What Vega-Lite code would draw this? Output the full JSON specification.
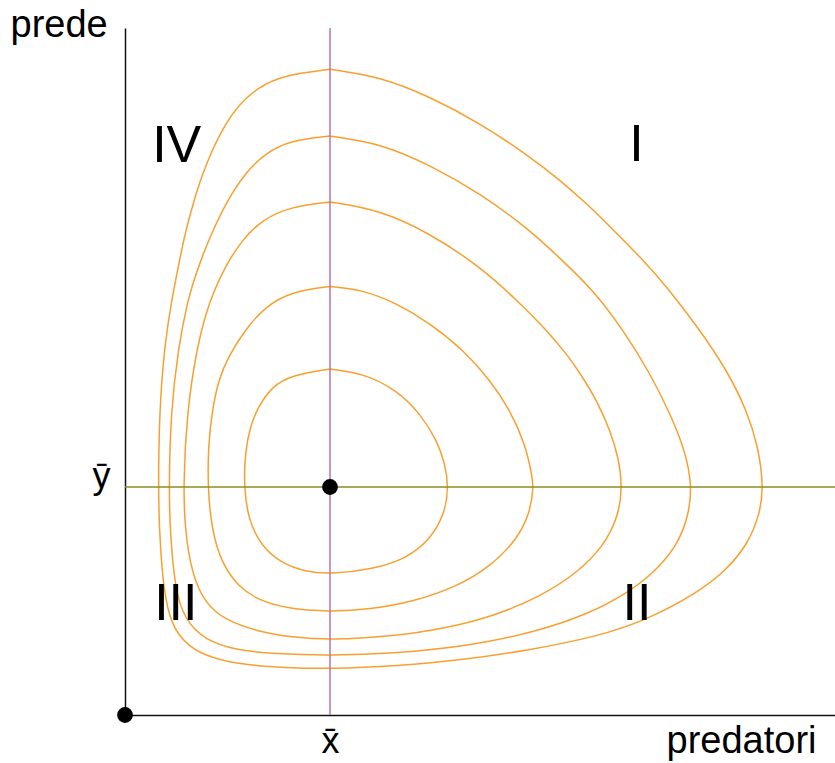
{
  "$schema": "https://vega.github.io/schema/vega-lite/v6.json",
  "width": 710,
  "height": 687,
  "autosize": {"type": "none"},
  "padding": {"left": 125, "top": 28, "right": 0, "bottom": 48},
  "background": "white",
  "config": {"view": {"stroke": null}, "font": "Liberation Sans"},
  "datasets": {
    "orbits": [
      {"c":1,"i":0,"x":2.05,"y":3.46},{"c":1,"i":1,"x":2.383,"y":3.417},{"c":1,"i":2,"x":2.717,"y":3.25},{"c":1,"i":3,"x":2.95,"y":3.017},{"c":1,"i":4,"x":3.117,"y":2.75},{"c":1,"i":5,"x":3.2,"y":2.517},{"c":1,"i":6,"x":3.235,"y":2.283},{"c":1,"i":7,"x":3.2,"y":2.017},{"c":1,"i":8,"x":3.05,"y":1.75},{"c":1,"i":9,"x":2.817,"y":1.567},{"c":1,"i":10,"x":2.483,"y":1.457},{"c":1,"i":11,"x":2.05,"y":1.407},{"c":1,"i":12,"x":1.8,"y":1.433},{"c":1,"i":13,"x":1.567,"y":1.517},{"c":1,"i":14,"x":1.367,"y":1.683},{"c":1,"i":15,"x":1.233,"y":1.95},{"c":1,"i":16,"x":1.19,"y":2.283},{"c":1,"i":17,"x":1.2,"y":2.617},{"c":1,"i":18,"x":1.25,"y":2.883},{"c":1,"i":19,"x":1.333,"y":3.083},{"c":1,"i":20,"x":1.467,"y":3.283},{"c":1,"i":21,"x":1.667,"y":3.4},{"c":1,"i":22,"x":2.05,"y":3.46},
      {"c":2,"i":0,"x":2.05,"y":4.285},{"c":2,"i":1,"x":2.383,"y":4.25},{"c":2,"i":2,"x":2.717,"y":4.117},{"c":2,"i":3,"x":3.05,"y":3.917},{"c":2,"i":4,"x":3.383,"y":3.65},{"c":2,"i":5,"x":3.65,"y":3.35},{"c":2,"i":6,"x":3.85,"y":3.05},{"c":2,"i":7,"x":4.0,"y":2.717},{"c":2,"i":8,"x":4.073,"y":2.383},{"c":2,"i":9,"x":4.085,"y":2.283},{"c":2,"i":10,"x":4.05,"y":2.017},{"c":2,"i":11,"x":3.917,"y":1.75},{"c":2,"i":12,"x":3.65,"y":1.483},{"c":2,"i":13,"x":3.317,"y":1.283},{"c":2,"i":14,"x":2.883,"y":1.133},{"c":2,"i":15,"x":2.45,"y":1.057},{"c":2,"i":16,"x":2.05,"y":1.03},{"c":2,"i":17,"x":1.6,"y":1.067},{"c":2,"i":18,"x":1.333,"y":1.15},{"c":2,"i":19,"x":1.133,"y":1.283},{"c":2,"i":20,"x":0.967,"y":1.517},{"c":2,"i":21,"x":0.867,"y":1.85},{"c":2,"i":22,"x":0.827,"y":2.283},{"c":2,"i":23,"x":0.833,"y":2.683},{"c":2,"i":24,"x":0.867,"y":3.017},{"c":2,"i":25,"x":0.933,"y":3.35},{"c":2,"i":26,"x":1.033,"y":3.583},{"c":2,"i":27,"x":1.2,"y":3.85},{"c":2,"i":28,"x":1.4,"y":4.083},{"c":2,"i":29,"x":1.667,"y":4.233},{"c":2,"i":30,"x":2.05,"y":4.285},
      {"c":3,"i":0,"x":2.05,"y":5.13},{"c":3,"i":1,"x":2.55,"y":5.05},{"c":3,"i":2,"x":3.05,"y":4.817},{"c":3,"i":3,"x":3.55,"y":4.483},{"c":3,"i":4,"x":3.917,"y":4.15},{"c":3,"i":5,"x":4.217,"y":3.85},{"c":3,"i":6,"x":4.45,"y":3.567},{"c":3,"i":7,"x":4.55,"y":3.417},{"c":3,"i":8,"x":4.717,"y":3.15},{"c":3,"i":9,"x":4.85,"y":2.85},{"c":3,"i":10,"x":4.933,"y":2.583},{"c":3,"i":11,"x":4.975,"y":2.283},{"c":3,"i":12,"x":4.933,"y":1.983},{"c":3,"i":13,"x":4.783,"y":1.683},{"c":3,"i":14,"x":4.517,"y":1.417},{"c":3,"i":15,"x":4.15,"y":1.183},{"c":3,"i":16,"x":3.717,"y":1.0},{"c":3,"i":17,"x":3.217,"y":0.867},{"c":3,"i":18,"x":2.65,"y":0.783},{"c":3,"i":19,"x":2.05,"y":0.75},{"c":3,"i":20,"x":1.667,"y":0.777},{"c":3,"i":21,"x":1.333,"y":0.833},{"c":3,"i":22,"x":1.0,"y":0.95},{"c":3,"i":23,"x":0.8,"y":1.117},{"c":3,"i":24,"x":0.667,"y":1.417},{"c":3,"i":25,"x":0.6,"y":1.85},{"c":3,"i":26,"x":0.583,"y":2.283},{"c":3,"i":27,"x":0.617,"y":3.017},{"c":3,"i":28,"x":0.72,"y":3.683},{"c":3,"i":29,"x":0.81,"y":4.017},{"c":3,"i":30,"x":0.88,"y":4.217},{"c":3,"i":31,"x":1.0,"y":4.483},{"c":3,"i":32,"x":1.17,"y":4.75},{"c":3,"i":33,"x":1.37,"y":4.95},{"c":3,"i":34,"x":1.65,"y":5.083},{"c":3,"i":35,"x":2.05,"y":5.13},
      {"c":4,"i":0,"x":2.05,"y":5.79},{"c":4,"i":1,"x":2.55,"y":5.717},{"c":4,"i":2,"x":3.05,"y":5.5},{"c":4,"i":3,"x":3.55,"y":5.217},{"c":4,"i":4,"x":4.05,"y":4.85},{"c":4,"i":5,"x":4.35,"y":4.567},{"c":4,"i":6,"x":4.683,"y":4.25},{"c":4,"i":7,"x":4.983,"y":3.85},{"c":4,"i":8,"x":5.25,"y":3.417},{"c":4,"i":9,"x":5.45,"y":3.017},{"c":4,"i":10,"x":5.6,"y":2.65},{"c":4,"i":11,"x":5.673,"y":2.283},{"c":4,"i":12,"x":5.633,"y":1.983},{"c":4,"i":13,"x":5.517,"y":1.683},{"c":4,"i":14,"x":5.283,"y":1.417},{"c":4,"i":15,"x":5.017,"y":1.217},{"c":4,"i":16,"x":4.65,"y":1.017},{"c":4,"i":17,"x":4.117,"y":0.833},{"c":4,"i":18,"x":3.45,"y":0.69},{"c":4,"i":19,"x":2.717,"y":0.617},{"c":4,"i":20,"x":2.05,"y":0.593},{"c":4,"i":21,"x":1.5,"y":0.61},{"c":4,"i":22,"x":1.1,"y":0.65},{"c":4,"i":23,"x":0.8,"y":0.75},{"c":4,"i":24,"x":0.6,"y":0.95},{"c":4,"i":25,"x":0.5,"y":1.25},{"c":4,"i":26,"x":0.45,"y":1.85},{"c":4,"i":27,"x":0.44,"y":2.283},{"c":4,"i":28,"x":0.457,"y":3.017},{"c":4,"i":29,"x":0.533,"y":3.683},{"c":4,"i":30,"x":0.63,"y":4.15},{"c":4,"i":31,"x":0.68,"y":4.32},{"c":4,"i":32,"x":0.77,"y":4.583},{"c":4,"i":33,"x":0.88,"y":4.85},{"c":4,"i":34,"x":1.025,"y":5.15},{"c":4,"i":35,"x":1.2,"y":5.417},{"c":4,"i":36,"x":1.4,"y":5.617},{"c":4,"i":37,"x":1.667,"y":5.75},{"c":4,"i":38,"x":2.05,"y":5.79},
      {"c":5,"i":0,"x":2.05,"y":6.457},{"c":5,"i":1,"x":2.55,"y":6.383},{"c":5,"i":2,"x":3.05,"y":6.183},{"c":5,"i":3,"x":3.55,"y":5.917},{"c":5,"i":4,"x":4.05,"y":5.583},{"c":5,"i":5,"x":4.35,"y":5.35},{"c":5,"i":6,"x":4.65,"y":5.083},{"c":5,"i":7,"x":4.783,"y":4.95},{"c":5,"i":8,"x":5.183,"y":4.55},{"c":5,"i":9,"x":5.417,"y":4.283},{"c":5,"i":10,"x":5.75,"y":3.85},{"c":5,"i":11,"x":6.017,"y":3.45},{"c":5,"i":12,"x":6.217,"y":3.05},{"c":5,"i":13,"x":6.333,"y":2.683},{"c":5,"i":14,"x":6.385,"y":2.283},{"c":5,"i":15,"x":6.35,"y":2.017},{"c":5,"i":16,"x":6.233,"y":1.717},{"c":5,"i":17,"x":6.017,"y":1.45},{"c":5,"i":18,"x":5.717,"y":1.217},{"c":5,"i":19,"x":5.217,"y":0.95},{"c":5,"i":20,"x":4.717,"y":0.783},{"c":5,"i":21,"x":4.05,"y":0.65},{"c":5,"i":22,"x":3.383,"y":0.55},{"c":5,"i":23,"x":2.717,"y":0.49},{"c":5,"i":24,"x":2.05,"y":0.46},{"c":5,"i":25,"x":1.6,"y":0.473},{"c":5,"i":26,"x":1.2,"y":0.5},{"c":5,"i":27,"x":0.867,"y":0.567},{"c":5,"i":28,"x":0.633,"y":0.683},{"c":5,"i":29,"x":0.467,"y":0.883},{"c":5,"i":30,"x":0.383,"y":1.25},{"c":5,"i":31,"x":0.343,"y":1.85},{"c":5,"i":32,"x":0.333,"y":2.283},{"c":5,"i":33,"x":0.343,"y":3.017},{"c":5,"i":34,"x":0.393,"y":3.683},{"c":5,"i":35,"x":0.467,"y":4.15},{"c":5,"i":36,"x":0.533,"y":4.483},{"c":5,"i":37,"x":0.6,"y":4.82},{"c":5,"i":38,"x":0.7,"y":5.183},{"c":5,"i":39,"x":0.8,"y":5.483},{"c":5,"i":40,"x":0.933,"y":5.783},{"c":5,"i":41,"x":1.1,"y":6.067},{"c":5,"i":42,"x":1.333,"y":6.283},{"c":5,"i":43,"x":1.6,"y":6.4},{"c":5,"i":44,"x":2.05,"y":6.457}
    ],
    "regions": [
      {"label":"I","x":5.115,"y":5.54},
      {"label":"II","x":5.12,"y":0.95},
      {"label":"III","x":0.508,"y":0.95},
      {"label":"IV","x":0.517,"y":5.535}
    ],
    "equilibria": [
      {"x":2.05,"y":2.28},
      {"x":0,"y":0}
    ],
    "nullclineX": [{"x": 2.05}],
    "nullclineY": [{"y": 2.28}]
  },
  "layer": [
    {
      "data": {"name": "orbits"},
      "mark": {"type": "line", "color": "#f8a02e", "strokeWidth": 1.5, "interpolate": "basis", "clip": false},
      "encoding": {
        "x": {
          "field": "x", "type": "quantitative",
          "scale": {"domain": [0, 7.1], "nice": false, "zero": false},
          "axis": {
            "title": "predatori", "titleFont": "Liberation Sans", "titleFontSize": 38, "titleFontWeight": "normal", "titleColor": "#000",
            "titleAlign": "right", "titleBaseline": "alphabetic", "titleX": 691, "titleY": 37, "titleAnchor": null,
            "values": [2.05], "labelExpr": "'x\u0304'", "labelFont": "Liberation Sans", "labelFontSize": 36, "labelColor": "#000",
            "labelBaseline": "alphabetic", "labelPadding": 37, "labelFlush": false,
            "ticks": false, "tickSize": 0, "grid": false,
            "domainColor": "#111", "domainWidth": 1.5
          }
        },
        "y": {
          "field": "y", "type": "quantitative",
          "scale": {"domain": [0, 6.87], "nice": false, "zero": false},
          "axis": {
            "title": "prede", "titleFont": "Liberation Sans", "titleFontSize": 38, "titleFontWeight": "normal", "titleColor": "#000",
            "titleAngle": 0, "titleAlign": "left", "titleBaseline": "alphabetic", "titleX": -115, "titleY": 8, "titleAnchor": null,
            "values": [2.28], "labelExpr": "'\u0233'", "labelFont": "Liberation Sans", "labelFontSize": 36, "labelColor": "#000",
            "labelAlign": "right", "labelBaseline": "alphabetic", "labelPadding": 15, "labelFlush": false,
            "ticks": false, "tickSize": 0, "grid": false,
            "domainColor": "#111", "domainWidth": 1.5
          }
        },
        "order": {"field": "i", "type": "quantitative"},
        "detail": {"field": "c", "type": "nominal"}
      }
    },
    {
      "data": {"name": "nullclineX"},
      "mark": {"type": "rule", "color": "#bc72a0", "strokeWidth": 1.5},
      "encoding": {"x": {"field": "x", "type": "quantitative"}}
    },
    {
      "data": {"name": "nullclineY"},
      "mark": {"type": "rule", "color": "#8e8e1e", "strokeWidth": 1.5},
      "encoding": {"y": {"field": "y", "type": "quantitative"}}
    },
    {
      "data": {"name": "equilibria"},
      "mark": {"type": "point", "filled": true, "color": "#000", "opacity": 1, "size": 250, "shape": "circle"},
      "encoding": {
        "x": {"field": "x", "type": "quantitative"},
        "y": {"field": "y", "type": "quantitative"}
      }
    },
    {
      "data": {"name": "regions"},
      "mark": {"type": "text", "font": "Liberation Sans", "fontSize": 52, "align": "center", "baseline": "alphabetic", "color": "#000"},
      "encoding": {
        "x": {"field": "x", "type": "quantitative"},
        "y": {"field": "y", "type": "quantitative"},
        "text": {"field": "label"}
      }
    }
  ]
}
